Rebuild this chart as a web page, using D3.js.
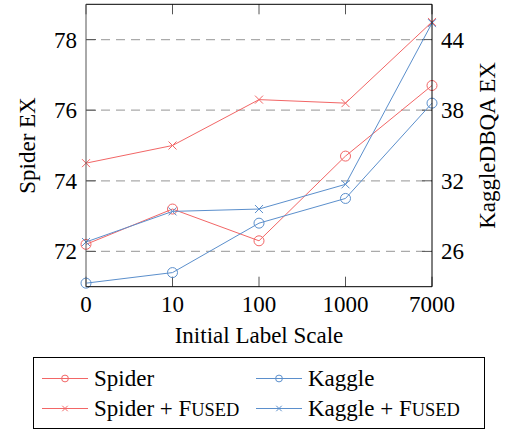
<!DOCTYPE html>
<html><head><meta charset="utf-8">
<script src="https://cdn.jsdelivr.net/npm/d3@7"></script>
<style>body{margin:0;background:#fff}svg{display:block}</style>
</head><body><svg id="c" width="505" height="433" font-family="'Liberation Serif', 'Times New Roman', Tinos, Times, 'DejaVu Serif', 'Noto Serif', serif"></svg>
<script>
const categories = ["0","10","100","1000","7000"];
const spider = [72.2, 73.2, 72.3, 74.7, 76.7];
const spiderFused = [74.5, 75.0, 76.3, 76.2, 78.5];
const kaggle = [23.3, 24.2, 28.4, 30.5, 38.6];
const kaggleFused = [26.8, 29.4, 29.6, 31.7, 45.4];
const leftTicks = [72, 74, 76, 78];
const rightTicks = [26, 32, 38, 44];

const RED = "#f26666", BLUE = "#5b8fcc";
const svg = d3.select("#c");
const L = 86, R = 432, T = 4.3, B = 286.7;
const x = d3.scalePoint().domain(categories).range([L, R]);
const yL = d3.scaleLinear().domain([71, 79]).range([B, T]);
const yR = d3.scaleLinear().domain([23, 47]).range([B, T]);
const FS = 23;

// grid
svg.append("g").selectAll("line").data(leftTicks).join("line")
  .attr("x1", L).attr("x2", R).attr("y1", d => yL(d)).attr("y2", d => yL(d))
  .attr("stroke", "#aaa").attr("stroke-width", 1.2).attr("stroke-dasharray", "9,6");

// ticks (inward)
const tk = 10;
const axG = svg.append("g").attr("stroke", "#555").attr("stroke-width", 1);
categories.forEach(c => {
  axG.append("line").attr("x1", x(c)).attr("x2", x(c)).attr("y1", B).attr("y2", B - tk);
  axG.append("line").attr("x1", x(c)).attr("x2", x(c)).attr("y1", T).attr("y2", T + tk);
});
leftTicks.forEach(d => axG.append("line").attr("x1", L).attr("x2", L + tk).attr("y1", yL(d)).attr("y2", yL(d)));
rightTicks.forEach(d => axG.append("line").attr("x1", R).attr("x2", R - tk).attr("y1", yR(d)).attr("y2", yR(d)));

// tick labels
svg.append("g").selectAll("text").data(categories).join("text")
  .attr("x", d => x(d)).attr("y", 311.5).attr("text-anchor", "middle").attr("font-size", FS).text(d => d);
svg.append("g").selectAll("text").data(leftTicks).join("text")
  .attr("x", 77).attr("y", d => yL(d) + 8).attr("text-anchor", "end").attr("font-size", FS).text(d => d);
svg.append("g").selectAll("text").data(rightTicks).join("text")
  .attr("x", 441).attr("y", d => yR(d) + 8).attr("text-anchor", "start").attr("font-size", FS).text(d => d);

// axis titles
svg.append("text").attr("x", (L + R) / 2).attr("y", 343).attr("text-anchor", "middle").attr("font-size", FS).text("Initial Label Scale");
svg.append("text").attr("transform", `translate(35,${(T + B) / 2}) rotate(-90)`).attr("text-anchor", "middle").attr("font-size", FS).text("Spider EX");
svg.append("text").attr("transform", `translate(495,${(T + B) / 2}) rotate(-90)`).attr("text-anchor", "middle").attr("font-size", FS).text("KaggleDBQA EX");

// series
const series = [
  {name: "Spider", data: spider, y: yL, color: RED, mark: "o", fused: false},
  {name: "Kaggle", data: kaggle, y: yR, color: BLUE, mark: "o", fused: false},
  {name: "Spider", data: spiderFused, y: yL, color: RED, mark: "x", fused: true},
  {name: "Kaggle", data: kaggleFused, y: yR, color: BLUE, mark: "x", fused: true}
];
function drawMark(g, mk, cx, cy, color, s) {
  if (mk === "o") {
    g.append("circle").attr("cx", cx).attr("cy", cy).attr("r", s).attr("fill", "none").attr("stroke", color).attr("stroke-width", 1);
  } else {
    const h = s * 0.8;
    g.append("path").attr("d", `M${cx-h},${cy-h}L${cx+h},${cy+h}M${cx-h},${cy+h}L${cx+h},${cy-h}`)
      .attr("stroke", color).attr("stroke-width", 1).attr("fill", "none");
  }
}
const plot = svg.append("g");
series.forEach(s => {
  const line = d3.line().x((d, i) => x(categories[i])).y(d => s.y(d));
  plot.append("path").attr("d", line(s.data)).attr("fill", "none").attr("stroke", s.color).attr("stroke-width", 1);
  s.data.forEach((d, i) => drawMark(plot, s.mark, x(categories[i]), s.y(d), s.color, 5));
});

// frame
svg.append("line").attr("x1", L).attr("x2", R).attr("y1", T).attr("y2", T).attr("stroke", "#000");
svg.append("line").attr("x1", L).attr("x2", R).attr("y1", B).attr("y2", B).attr("stroke", "#000");
svg.append("line").attr("x1", L).attr("x2", L).attr("y1", T).attr("y2", B).attr("stroke", "#555");
svg.append("line").attr("x1", R).attr("x2", R).attr("y1", T).attr("y2", B).attr("stroke", "#000");

// legend
const lg = svg.append("g");
lg.append("rect").attr("x", 33.5).attr("y", 357.5).attr("width", 451).attr("height", 71).attr("fill", "#fff").attr("stroke", "#000");
const cols = [{lx: 42, tx: 94}, {lx: 256, tx: 308}];
const rows = [378.5, 408.5];
series.forEach((s, k) => {
  const c = cols[k % 2], ry = rows[Math.floor(k / 2)];
  lg.append("line").attr("x1", c.lx).attr("x2", c.lx + 46).attr("y1", ry).attr("y2", ry).attr("stroke", s.color);
  drawMark(lg, s.mark, c.lx + 23, ry, s.color, 3.4);
  const t = lg.append("text").attr("x", c.tx).attr("y", ry + 7).attr("font-size", FS);
  t.append("tspan").text(s.name + (s.fused ? " + F" : ""));
  if (s.fused) t.append("tspan").attr("font-size", FS * 0.8).text("USED");
});
</script></body></html>
